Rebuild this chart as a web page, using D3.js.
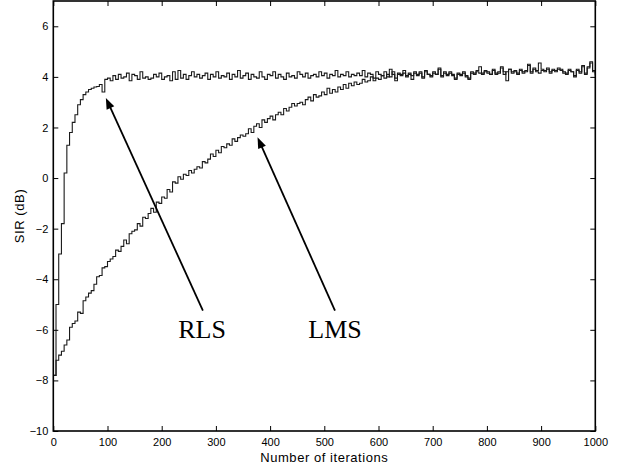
<!DOCTYPE html>
<html>
<head>
<meta charset="utf-8">
<script src="https://cdn.jsdelivr.net/npm/d3@7"></script>
<style>
  html, body { margin: 0; padding: 0; background: #fff; }
  svg { display: block; }
</style>
</head>
<body>
<svg id="chart" width="627" height="468"></svg>
<script>
// ---- data ----
const iterations = d3.range(0, 1001, 5);

const rlsSIR = [
  -7.8, -5.0, -3.0, -1.8, 0.2, 1.3, 1.8, 2.2, 2.5, 2.9, 3.1, 3.3, 3.4, 3.5, 3.55, 3.6, 3.62, 3.7, 3.4, 3.9,
  3.95, 3.85, 4.05, 3.9, 4.1, 3.95, 4.0, 4.15, 3.85, 4.1, 4.05, 3.9, 4.2, 3.95, 4.0, 3.9, 3.95, 4.1, 4.0, 4.15,
  3.9, 4.0, 4.05, 3.85, 4.2, 3.9, 4.25, 3.95, 4.1, 3.9, 4.05, 4.2, 4.0, 4.1, 3.95, 4.05, 4.15, 3.9, 4.1, 4.0,
  4.2, 3.95, 4.05, 4.0, 4.15, 3.9, 4.1, 4.0, 4.25, 3.95, 4.05, 4.15, 3.9, 4.1, 4.0, 3.95, 4.2, 4.0, 3.9, 4.1,
  4.05, 4.2, 3.95, 4.1, 4.0, 3.9, 4.15, 4.0, 4.05, 3.95, 4.2, 4.1, 4.0, 4.15, 3.95, 4.05, 4.1, 4.0, 4.2, 4.05,
  4.15, 3.95, 4.1, 4.05, 4.25, 4.0, 4.1, 4.05, 4.2, 4.0, 4.1, 4.05, 4.15, 4.05, 4.25, 4.0, 4.15, 4.1, 3.95, 4.2,
  4.1, 4.05, 4.2, 4.0, 4.3, 4.1, 3.95, 4.15, 4.1, 4.25, 4.05, 4.15, 3.9, 4.2, 4.1, 4.15, 4.0, 4.2, 4.1, 4.05,
  4.15, 4.1, 4.3, 4.0, 4.15, 4.05, 4.2, 4.1, 3.95, 4.1, 4.05, 4.15, 4.0, 3.9, 4.15, 4.1, 4.2, 4.15, 4.1, 4.2,
  4.15, 4.1, 4.25, 4.1, 4.15, 4.35, 4.1, 4.2, 4.3, 4.15, 4.2, 4.1, 4.25, 4.15, 4.2, 4.45, 4.15, 4.3, 4.2, 4.15,
  4.25, 4.2, 4.3, 4.15, 4.25, 4.2, 4.3, 4.25, 4.15, 4.1, 4.25, 4.2, 4.0, 4.25, 4.15, 4.4, 4.1, 4.35, 4.55, 4.2,
  4.1
];

const lmsSIR = [
  -7.8, -7.2, -7.0, -6.85, -6.6, -6.4, -5.9, -5.75, -5.65, -5.3, -5.35, -4.85, -4.7, -4.55, -4.45, -4.2, -3.9, -3.85, -3.55, -3.5,
  -3.3, -3.2, -3.1, -2.85, -2.9, -2.7, -2.45, -2.6, -2.2, -2.1, -2.05, -1.8, -1.9, -1.55, -1.6, -1.4, -1.2, -1.35, -0.95, -1.0,
  -0.75, -0.8, -0.45, -0.55, -0.15, -0.2, 0.05, -0.05, 0.15, 0.1, 0.3, 0.2, 0.35, 0.45, 0.4, 0.65, 0.6, 0.75, 0.95, 0.85,
  1.1, 1.0, 1.25, 1.2, 1.35, 1.3, 1.55, 1.45, 1.6, 1.7, 1.65, 1.75, 1.95, 1.8, 2.05, 2.15, 2.0, 2.3, 2.2, 2.35,
  2.45, 2.3, 2.5, 2.6, 2.5, 2.75, 2.65, 2.8, 2.95, 2.85, 2.95, 3.0, 2.9, 3.1, 3.2, 3.05, 3.3, 3.2, 3.25, 3.4,
  3.3, 3.55, 3.35, 3.5, 3.4, 3.6, 3.5, 3.7, 3.55, 3.75, 3.65, 3.8, 3.7, 3.75, 3.9, 3.8, 3.85, 4.0, 3.85, 3.95,
  3.9, 4.05, 3.95, 4.1, 4.0, 4.2, 3.85, 4.1, 4.05, 4.15, 4.0, 4.1, 4.05, 4.15, 4.05, 4.2, 3.95, 4.25, 4.1, 4.0,
  4.2, 4.1, 4.35, 4.05, 4.2, 4.1, 4.15, 4.05, 3.9, 4.15, 4.1, 4.2, 4.05, 3.95, 4.2, 4.15, 4.25, 4.4, 4.15, 4.25,
  4.2, 4.1, 4.3, 4.15, 4.2, 4.4, 4.2, 3.85, 4.3, 4.2, 4.25, 4.15, 4.3, 4.2, 4.25, 4.5, 4.2, 4.35, 4.25, 4.55,
  4.3, 4.25, 4.35, 4.2, 4.3, 4.25, 4.35, 4.3, 4.2, 4.15, 4.3, 4.2, 4.05, 4.3, 4.2, 4.45, 4.15, 4.4, 4.6, 4.25,
  4.05
];

const xTickValues = [0, 100, 200, 300, 400, 500, 600, 700, 800, 900, 1000];
const yTickValues = [-10, -8, -6, -4, -2, 0, 2, 4, 6];
const xDomain = [0, 1000];
const yDomain = [-10, 7];

const xLabel = "Number of iterations";
const yLabel = "SIR (dB)";

// annotations in data coordinates
const annoLabels = ["RLS", "LMS"];
const annoText   = [[230.5, -6.32], [470.5, -6.32]];
const annoTail   = [[276, -5.24], [519.7, -5.24]];
const annoTip    = [[97, 3.17], [376.8, 1.61]];

(function draw() {
  // ---- layout ----
  const pLeft = 53.3, pRight = 595.3, pTop = 1, pBottom = 431;
  const svg = d3.select("#chart");

  const x = d3.scaleLinear().domain(xDomain).range([pLeft, pRight]);
  const y = d3.scaleLinear().domain(yDomain).range([pBottom, pTop]);

  const sans = "'Liberation Sans', Arial, Helvetica, sans-serif";
  const serif = "'Liberation Serif', 'Times New Roman', serif";

  const line = d3.line()
    .x((d, i) => x(iterations[i]))
    .y(d => y(d))
    .curve(d3.curveStepAfter);

  [lmsSIR, rlsSIR].forEach(series => {
    svg.append("path")
      .datum(series)
      .attr("d", line)
      .attr("fill", "none")
      .attr("stroke", "#1a1a1a")
      .attr("stroke-width", 1.1);
  });

  function styleAxis(g, showText) {
    g.select(".domain").remove();
    g.selectAll("line").attr("stroke", "#000").attr("stroke-width", 1);
    g.selectAll("text")
      .attr("fill", "#000")
      .style("font-family", sans)
      .style("font-size", "11px");
    if (!showText) g.selectAll("text").remove();
  }

  svg.append("g")
    .attr("transform", `translate(0,${pBottom})`)
    .call(d3.axisBottom(x).tickValues(xTickValues).tickSizeInner(-5).tickSizeOuter(0).tickPadding(7).tickFormat(d3.format("d")))
    .call(g => styleAxis(g, true));

  svg.append("g")
    .attr("transform", `translate(0,${pTop})`)
    .call(d3.axisTop(x).tickValues(xTickValues).tickSizeInner(-5).tickSizeOuter(0))
    .call(g => styleAxis(g, false));

  svg.append("g")
    .attr("transform", `translate(${pLeft},0)`)
    .call(d3.axisLeft(y).tickValues(yTickValues).tickSizeInner(-5).tickSizeOuter(0).tickPadding(5).tickFormat(d3.format("d")))
    .call(g => styleAxis(g, true));

  svg.append("g")
    .attr("transform", `translate(${pRight},0)`)
    .call(d3.axisRight(y).tickValues(yTickValues).tickSizeInner(-5).tickSizeOuter(0))
    .call(g => styleAxis(g, false));

  svg.append("rect")
    .attr("x", pLeft).attr("y", pTop)
    .attr("width", pRight - pLeft).attr("height", pBottom - pTop)
    .attr("fill", "none")
    .attr("stroke", "#000")
    .attr("stroke-width", 1.6);

  svg.append("text")
    .attr("x", (pLeft + pRight) / 2)
    .attr("y", 461.7)
    .attr("text-anchor", "middle")
    .style("font-family", sans)
    .style("font-size", "13px")
    .style("letter-spacing", "0.55px")
    .text(xLabel);

  svg.append("text")
    .attr("transform", `translate(23.5,${(pTop + pBottom) / 2}) rotate(-90)`)
    .attr("text-anchor", "middle")
    .style("font-family", sans)
    .style("font-size", "13px")
    .style("letter-spacing", "0.6px")
    .text(yLabel);

  annoLabels.forEach((lab, i) => {
    const tx = x(annoTail[i][0]), ty = y(annoTail[i][1]);
    const hx = x(annoTip[i][0]), hy = y(annoTip[i][1]);
    const dx = hx - tx, dy = hy - ty, len = Math.hypot(dx, dy);
    const ux = dx / len, uy = dy / len;
    const headLen = 11, headHalf = 4.2;
    const bx = hx - ux * headLen, by = hy - uy * headLen;
    svg.append("line")
      .attr("x1", tx).attr("y1", ty)
      .attr("x2", bx + ux).attr("y2", by + uy)
      .attr("stroke", "#000").attr("stroke-width", 1.8);
    svg.append("path")
      .attr("d", `M${hx},${hy} L${bx - uy * headHalf},${by + ux * headHalf} L${bx + uy * headHalf},${by - ux * headHalf} Z`)
      .attr("fill", "#000");
    svg.append("text")
      .attr("x", x(annoText[i][0]))
      .attr("y", y(annoText[i][1]))
      .style("font-family", serif)
      .style("font-size", "26px")
      .text(lab);
  });
})();
</script>
</body>
</html>
